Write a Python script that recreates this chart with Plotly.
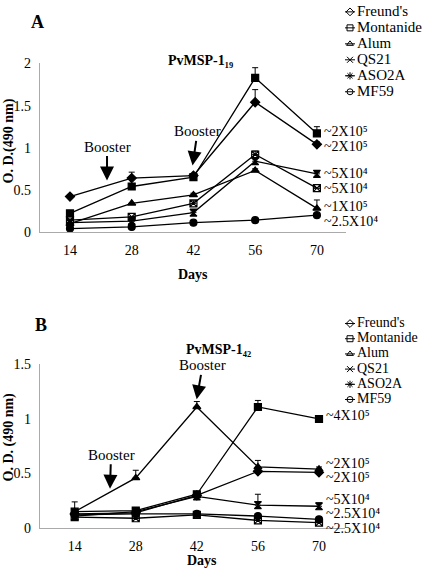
import plotly.graph_objects as go

W, H = 431, 576

# ---------------- data ----------------
days = [14, 28, 42, 56, 70]
series_names = ["Freund's", "Montanide", "Alum", "QS21", "ASO2A", "MF59"]

# Panel A  (PvMSP-1_19)
freund_a = [0.42, 0.64, 0.67, 1.54, 1.04]
montanide_a = [0.22, 0.54, 0.65, 1.83, 1.17]
alum_a = [0.10, 0.34, 0.44, 0.73, 0.28]
qs21_a = [0.14, 0.18, 0.34, 0.92, 0.52]
aso2a_a = [0.11, 0.13, 0.23, 0.84, 0.69]
mf59_a = [0.04, 0.06, 0.11, 0.14, 0.20]

freund_a_err = [0.0, 0.07, 0.02, 0.15, 0.03]
montanide_a_err = [0.02, 0.02, 0.03, 0.12, 0.08]
alum_a_err = [0.0, 0.0, 0.02, 0.02, 0.10]
qs21_a_err = [0.0, 0.0, 0.03, 0.04, 0.0]
aso2a_a_err = [0.0, 0.0, 0.02, 0.03, 0.02]
mf59_a_err = [0.0, 0.0, 0.0, 0.0, 0.0]

# Panel B  (PvMSP-1_42)
freund_b = [0.13, 0.14, 0.30, 0.52, 0.51]
montanide_b = [0.15, 0.16, 0.31, 1.11, 1.00]
alum_b = [0.15, 0.46, 1.11, 0.56, 0.54]
qs21_b = [0.10, 0.09, 0.12, 0.07, 0.05]
aso2a_b = [0.11, 0.15, 0.29, 0.21, 0.20]
mf59_b = [0.12, 0.13, 0.13, 0.11, 0.08]

freund_b_err = [0.0, 0.0, 0.0, 0.0, 0.03]
montanide_b_err = [0.02, 0.02, 0.01, 0.06, 0.01]
alum_b_err = [0.09, 0.07, 0.05, 0.06, 0.02]
qs21_b_err = [0.0, 0.0, 0.0, 0.0, 0.0]
aso2a_b_err = [0.0, 0.0, 0.0, 0.10, 0.03]
mf59_b_err = [0.0, 0.0, 0.0, 0.0, 0.0]

x_ticks = [14, 28, 42, 56, 70]
y_ticks_a = [0, 0.5, 1, 1.5, 2]
y_ticks_b = [0, 0.5, 1, 1.5]

titer_labels_a = ["~2X10⁵", "~2X10⁵", "~5X10⁴", "~5X10⁴", "~1X10⁵", "~2.5X10⁴"]
titer_labels_b = ["~4X10⁵", "~2X10⁵", "~2X10⁵", "~5X10⁴", "~2.5X10⁴", "~2.5X10⁴"]

# ---------------- styling ----------------
FONT = "Liberation Serif, Times New Roman, serif"
plot_symbols = ["diamond", "square", "triangle-up", "square-x-open", "hourglass", "circle"]
key_symbols = ["diamond-open", "square-open", "triangle-up-open", "x-thin-open",
               "asterisk-open", "circle-open"]
KEY_LINE = [0, 1]        # key line segment (key-axis units)
KEY_MARK = 0.5           # key marker position
KEY_TEXT = 1.2           # key text position


def px(p):
    return p / W


def py(p):
    return 1 - p / H


fig = go.Figure()

panels = [
    ("x", "y", "x3", "y3", 15, [freund_a, montanide_a, alum_a, qs21_a, aso2a_a, mf59_a],
     [freund_a_err, montanide_a_err, alum_a_err, qs21_a_err, aso2a_a_err, mf59_a_err]),
    ("x2", "y2", "x4", "y4", 14, [freund_b, montanide_b, alum_b, qs21_b, aso2a_b, mf59_b],
     [freund_b_err, montanide_b_err, alum_b_err, qs21_b_err, aso2a_b_err, mf59_b_err]),
]

for xa, ya, kx, ky, key_font, vals, errs in panels:
    for name, v, e, sym in zip(series_names, vals, errs, plot_symbols):
        fig.add_trace(go.Scatter(
            x=days, y=v, mode="lines+markers", name=name, showlegend=False,
            xaxis=xa, yaxis=ya, cliponaxis=False,
            line=dict(color="black", width=1.3),
            marker=dict(symbol=sym, size=7, color="black",
                        line=dict(color="black", width=1.2)),
            error_y=dict(type="data", symmetric=False, array=e,
                         arrayminus=[0] * len(e), color="black",
                         thickness=1, width=3),
        ))
    # ---- key (legend) drawn on its own small axes ----
    for name in series_names:
        fig.add_trace(go.Scatter(
            x=KEY_LINE, y=[name] * len(KEY_LINE), mode="lines", showlegend=False,
            xaxis=kx, yaxis=ky, line=dict(color="black", width=1), hoverinfo="skip"))
    fig.add_trace(go.Scatter(
        x=[KEY_MARK] * len(series_names), y=series_names, mode="markers", showlegend=False,
        xaxis=kx, yaxis=ky, cliponaxis=False,
        marker=dict(symbol=key_symbols, size=6, color="black",
                    line=dict(color="black", width=1)), hoverinfo="skip"))
    fig.add_trace(go.Scatter(
        x=[KEY_TEXT] * len(series_names), y=series_names, text=series_names,
        mode="text", textposition="middle right", showlegend=False, cliponaxis=False,
        xaxis=kx, yaxis=ky, textfont=dict(family=FONT, size=key_font, color="black"),
        hoverinfo="skip"))

axis_common = dict(showline=True, linecolor="#aaaaaa", linewidth=1.3, ticks="",
                   showgrid=False, zeroline=False, ticklabelstandoff=5,
                   tickfont=dict(family=FONT, size=14, color="black"))
key_axis = dict(visible=False, showgrid=False, zeroline=False, fixedrange=True)

fig.update_layout(
    width=W, height=H, margin=dict(l=0, r=0, t=0, b=0),
    paper_bgcolor="white", plot_bgcolor="rgba(0,0,0,0)",
    font=dict(family=FONT, color="black"),
    showlegend=False,
    xaxis=dict(domain=[px(40), px(346)], range=[7.2, 76.6], tickvals=x_ticks,
               anchor="y", **axis_common),
    yaxis=dict(domain=[py(231), py(58)], range=[0, 2], tickvals=y_ticks_a,
               ticktext=[f"{t:g}" for t in y_ticks_a], anchor="x", **axis_common),
    xaxis2=dict(domain=[px(40), px(345)], range=[6.05, 75.96], tickvals=x_ticks,
                anchor="y2", **axis_common),
    yaxis2=dict(domain=[py(535), py(367)], range=[0, 1.5], tickvals=y_ticks_b,
                ticktext=[f"{t:g}" for t in y_ticks_b], anchor="x2", **axis_common),
    # key axes
    xaxis3=dict(domain=[px(345), 1], range=[0, 8.6], anchor="y3", **key_axis),
    yaxis3=dict(domain=[py(100), 1], range=[5.79, -0.305], anchor="x3",
                type="category", categoryarray=series_names, **key_axis),
    xaxis4=dict(domain=[px(345), 1], range=[0, 8.6], anchor="y4", **key_axis),
    yaxis4=dict(domain=[py(415), py(315)], range=[5.77, -0.641], anchor="x4",
                type="category", categoryarray=series_names, **key_axis),
)

ann = []


def text(x, y, t, size=14, bold=False, angle=0, xanchor="center"):
    ann.append(dict(x=px(x), y=py(y), xref="paper", yref="paper",
                    text=(f"<b>{t}</b>" if bold else t),
                    showarrow=False, textangle=angle, xanchor=xanchor, yanchor="middle",
                    font=dict(family=FONT, size=size, color="black")))


# panel letters and titles
text(37, 15, "A", size=18, bold=True)
text(41, 327, "B", size=18, bold=True)
text(200, 55, "PvMSP-1₁₉", size=14, bold=True)
text(218, 352, "PvMSP-1₄₂", size=14, bold=True)
# axis titles
text(9, 138, "O. D.(490 nm)", size=14, bold=True, angle=-90)
text(9, 442, "O. D. (490 nm)", size=14, bold=True, angle=-90)
text(193, 275, "Days", size=14, bold=True)
text(202, 568, "Days", size=14, bold=True)

# titer labels
for t, yy in zip(titer_labels_a, [128, 143, 171, 186, 205, 220]):
    text(322, yy, t, size=14, xanchor="left")
for t, yy in zip(titer_labels_b, [419, 469, 483, 506, 520, 535]):
    text(324, yy, t, size=14, xanchor="left")

# booster arrows
boosters = [
    ("x", "y", 22.4, 0.61, 0),
    ("x", "y", 41.8, 0.79, 5),
    ("x2", "y2", 22.1, 0.36, 1),
    ("x2", "y2", 41.96, 1.18, 6),
]
for xr, yr, bx, by, shift in boosters:
    ann.append(dict(x=bx, y=by, xref=xr, yref=yr, text="Booster", showarrow=True,
                    ax=shift, ay=-34, arrowhead=2, arrowsize=1.4, arrowwidth=2,
                    arrowcolor="black", standoff=0,
                    font=dict(family=FONT, size=15, color="black")))

fig.update_layout(annotations=ann)
fig.write_html("out.html", config={"displayModeBar": False},
               post_script="document.body.style.margin='0';document.body.style.padding='0';")
